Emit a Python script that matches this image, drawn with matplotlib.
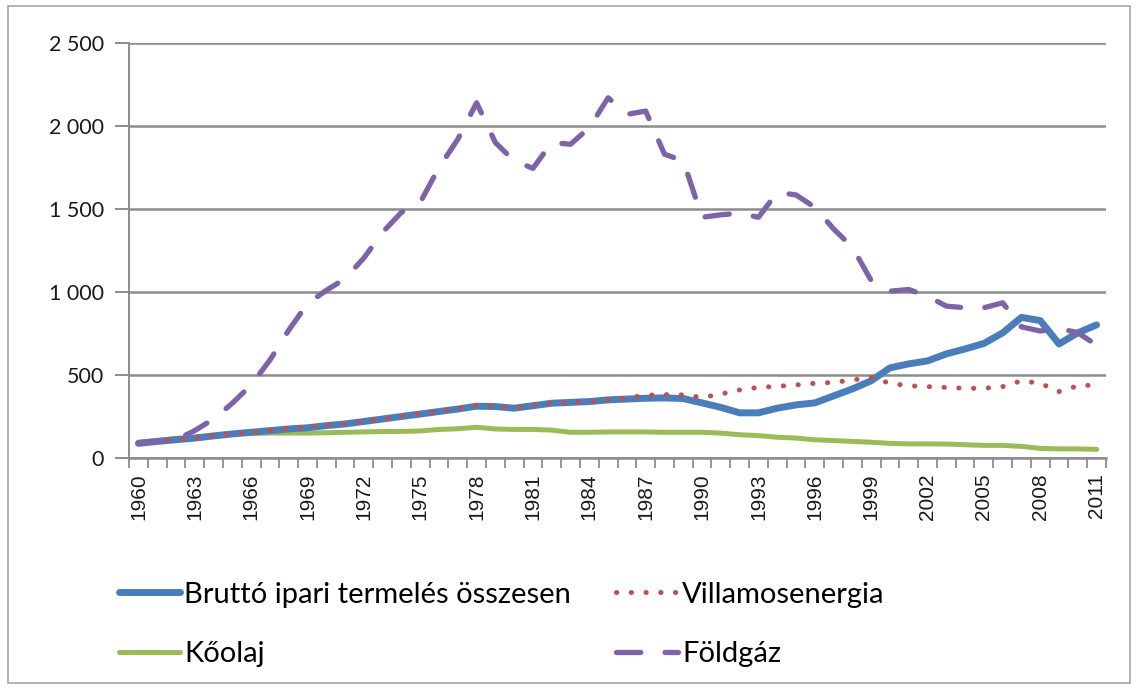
import matplotlib
matplotlib.use("Agg")
import matplotlib.pyplot as plt
from matplotlib.ticker import FuncFormatter, FixedLocator
from matplotlib.patches import Rectangle

years = list(range(1960, 2012))

brutto = [88, 100, 110, 120, 133, 145, 155, 165, 175, 182, 195, 205, 220, 235, 250, 265,
          280, 295, 312, 310, 300, 315, 330, 335, 340, 350, 355, 360, 362, 358, 332, 305,
          272, 272, 300, 320, 332, 374, 416, 465, 543, 567, 585, 627, 657, 690, 754, 847,
          828, 687, 754, 802]

villamos = [90, 100, 112, 122, 135, 145, 155, 167, 178, 185, 197, 208, 222, 237, 252, 267,
            282, 298, 318, 315, 305, 318, 330, 335, 340, 350, 362, 378, 382, 380, 365, 385,
            410, 425, 432, 440, 450, 455, 470, 485, 450, 435, 430, 425, 420, 420, 430, 465,
            450, 400, 435, 440]

koolaj = [95, 105, 118, 125, 135, 145, 148, 150, 150, 150, 152, 155, 157, 160, 160, 163,
          172, 176, 185, 175, 172, 172, 168, 155, 155, 157, 157, 157, 155, 155, 155, 150,
          140, 135, 125, 120, 110, 105, 100, 95, 88, 85, 85, 84, 80, 76, 76, 70,
          58, 55, 55, 52]

foldgaz = [88, 100, 110, 165, 235, 330, 440, 590, 770, 930, 1010, 1080, 1205, 1360, 1480, 1540,
           1750, 1920, 2140, 1900, 1790, 1745, 1900, 1890, 1990, 2170, 2070, 2090, 1830, 1790, 1450, 1465,
           1475, 1450, 1600, 1585, 1510, 1380, 1270, 1070, 1005, 1015, 975, 915, 905, 905, 935, 790,
           765, 780, 755, 680]

labels = ["Bruttó ipari termelés összesen", "Villamosenergia", "Kőolaj", "Földgáz"]
yticks = [0, 500, 1000, 1500, 2000, 2500]

plt.rcParams["font.family"] = ["Liberation Sans", "DejaVu Sans"]

W, H = 1141, 689
fig = plt.figure(figsize=(W / 100, H / 100), dpi=100)
fig.patch.set_facecolor("white")
ax = fig.add_axes([129 / W, 1 - 458 / H, (1106 - 129) / W, (458 - 43) / H])

x = list(range(len(years)))
l1, = ax.plot(x, brutto, color="#4A7EBB", lw=5.0, solid_capstyle="round", solid_joinstyle="round", zorder=3)
l2, = ax.plot(x, villamos, color="#C0504D", lw=3.6, linestyle=(0, (0.05, 2.9)),
              dash_capstyle="round", zorder=4)
l3, = ax.plot(x, koolaj, color="#9BBB59", lw=3.6, solid_capstyle="round", zorder=2)
l4, = ax.plot(x, foldgaz, color="#7F63A8", lw=3.8, linestyle=(0, (4.6, 4.6)),
              dash_capstyle="round", zorder=5)

ax.set_xlim(-0.5, len(years) - 0.5)
ax.set_ylim(0, 2500)
ax.set_yticks(yticks)
ax.yaxis.set_major_formatter(FuncFormatter(lambda v, p: f"{int(v):,}".replace(",", " ")))
ax.grid(axis="y", color="#8C8C8C", lw=1.8)
ax.set_axisbelow(True)

major = x[::3]
ax.set_xticks(major)
ax.set_xticklabels([str(years[i]) for i in major])
ax.xaxis.set_minor_locator(FixedLocator([i - 0.5 for i in range(len(years) + 1)]))
ax.tick_params(axis="x", which="major", length=0, pad=11, labelsize=15,
               labelrotation=90, labelcolor="#1a1a1a")
ax.tick_params(axis="x", which="minor", length=7, width=1.3, color="#8C8C8C", direction="out")
ax.tick_params(axis="y", length=10, width=1.4, color="#8C8C8C", pad=8, labelsize=15.5,
               labelcolor="#1a1a1a")
for t in ax.get_yticklabels():
    t.set_family("Lato")

for s in ["top", "right"]:
    ax.spines[s].set_visible(False)
ax.spines["left"].set_color("#8C8C8C")
ax.spines["left"].set_linewidth(1.4)
ax.spines["bottom"].set_color("#8C8C8C")
ax.spines["bottom"].set_linewidth(1.8)

leg = fig.legend([l1, l3, l2, l4], [labels[0], labels[2], labels[1], labels[3]],
                 ncol=2, loc="upper left", bbox_to_anchor=(104 / W, 1 - 567 / H),
                 frameon=False, prop={"family": "Lato", "size": 21},
                 handlelength=2.1, handletextpad=0.15, columnspacing=1.55,
                 labelspacing=1.15, borderpad=0)

fig.add_artist(Rectangle((8 / W, 6 / H), (1130 - 8) / W, (683 - 6) / H, transform=fig.transFigure,
                         fill=False, edgecolor="#A6A6A6", lw=1.2))

fig.savefig("out.png", dpi=100, facecolor="white")
